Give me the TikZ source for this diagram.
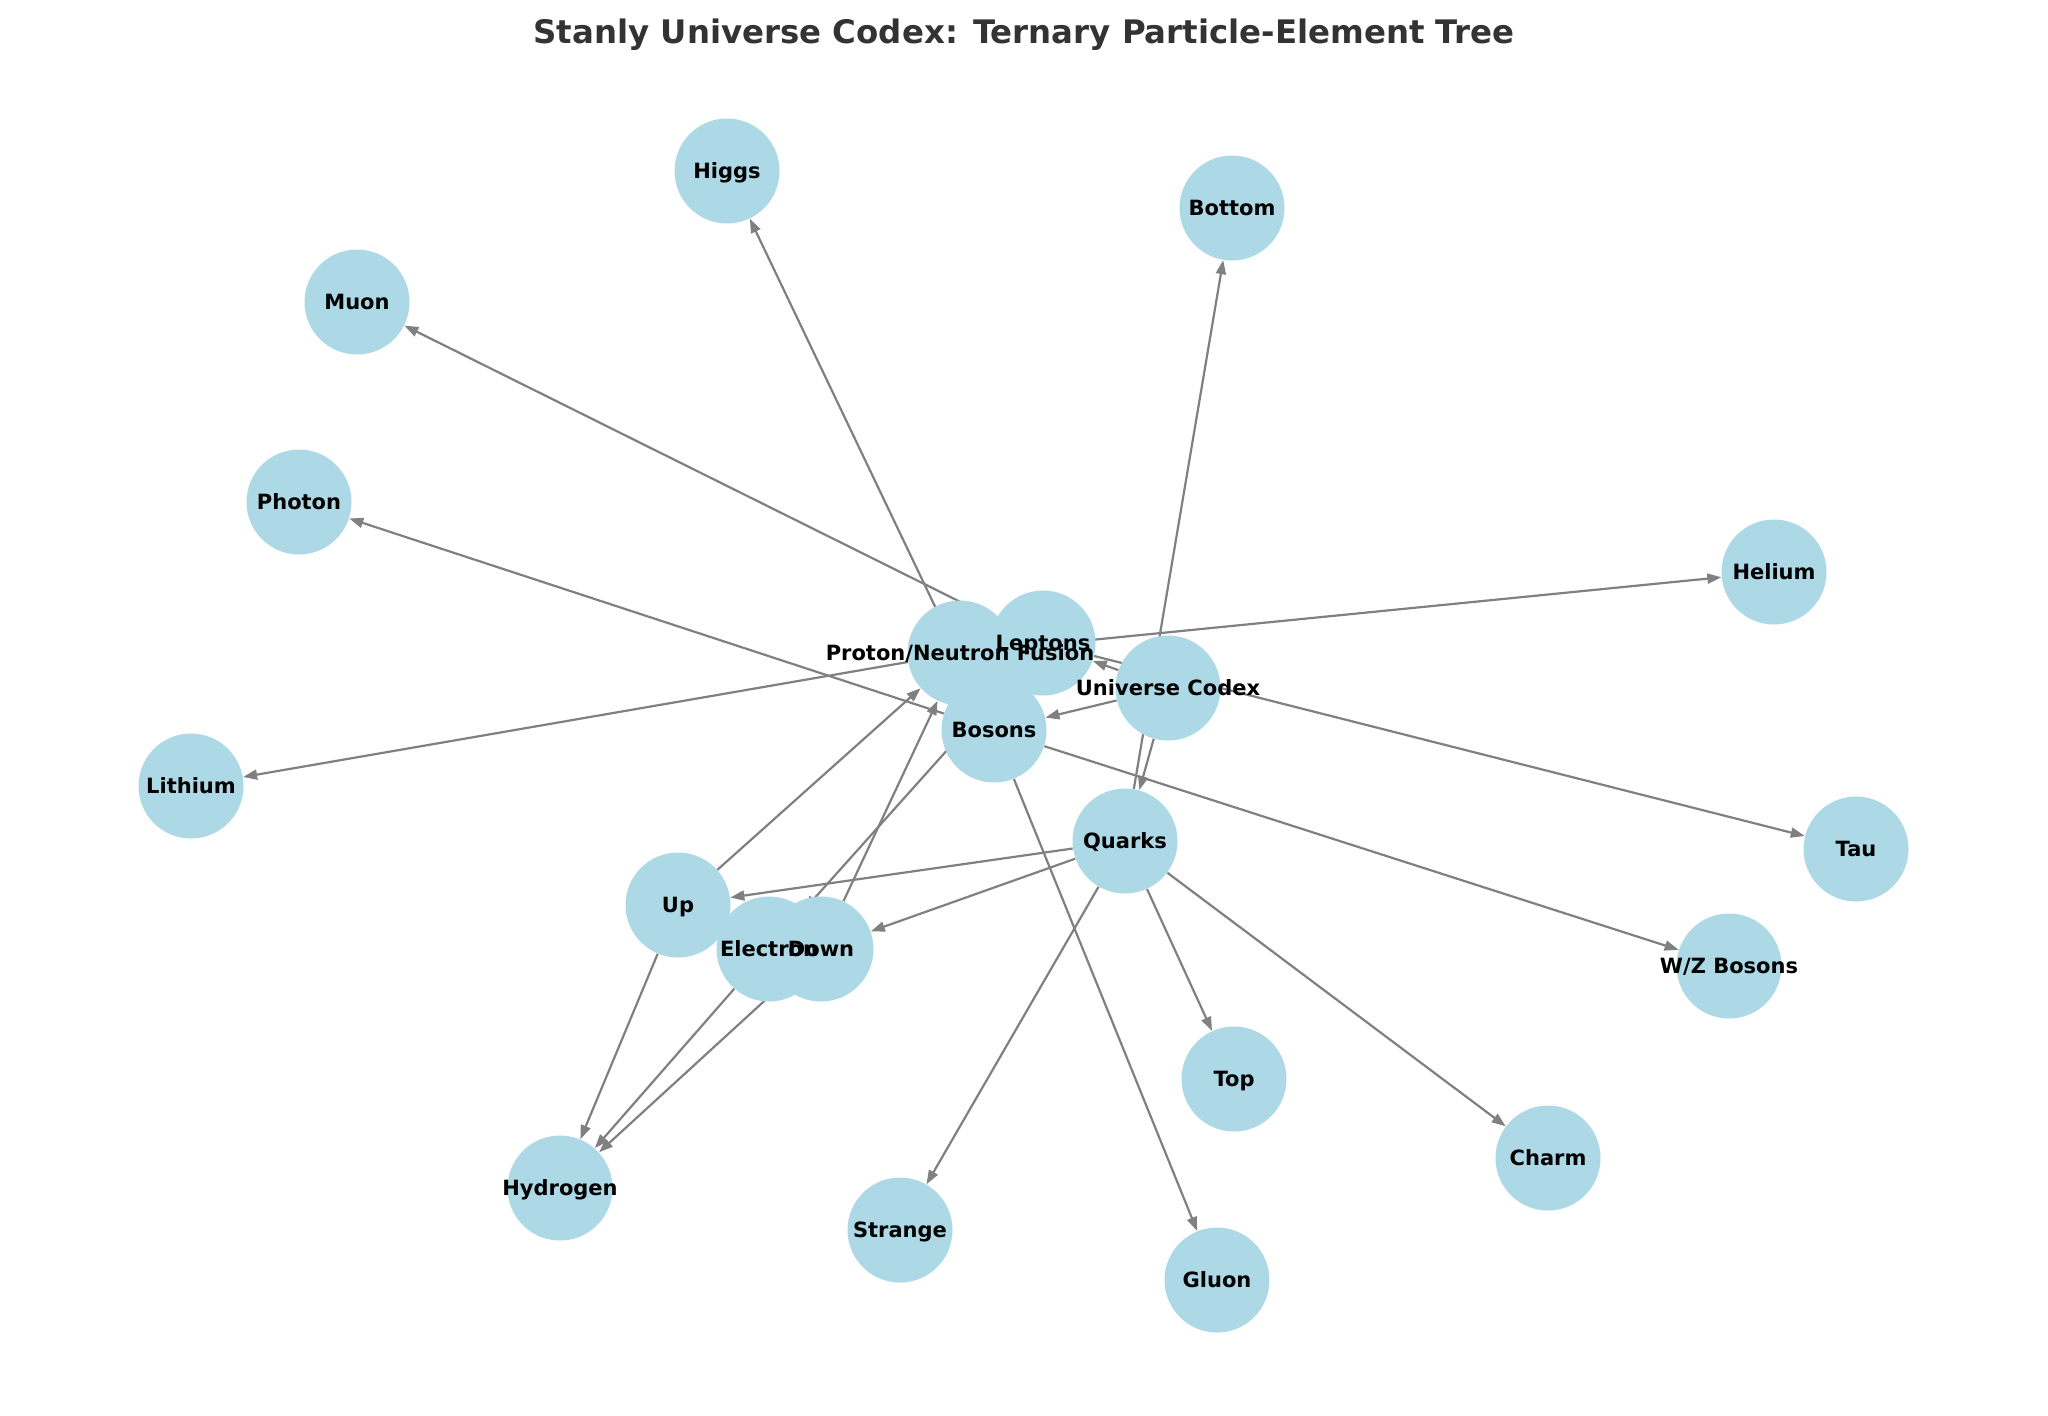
\documentclass[tikz,border=0pt]{standalone}
\usepackage{fontspec}
\setmainfont{DejaVu Sans}
\usetikzlibrary{arrows.meta}
\definecolor{nodeblue}{HTML}{ADD8E6}
\definecolor{edgegray}{HTML}{808080}
\definecolor{titlegray}{HTML}{333333}
\pgfdeclarelayer{background}
\pgfsetlayers{background,main}
\tikzset{
  dot/.style={circle, fill=nodeblue, draw=none, minimum size=52.5pt, inner sep=0pt},
  lbl/.style={font=\bfseries\fontsize{10.5}{12}\selectfont, text=black, inner sep=0pt, text height=0.73em, text depth=0pt},
  edge/.style={draw=edgegray, line width=1.1pt, -{Triangle[length=7pt,width=5pt]}}
}
\begin{document}
\begin{tikzpicture}[x=0.5pt,y=-0.5pt]
\useasboundingbox (0,0) rectangle (2048,1415);
\node[font=\bfseries\fontsize{16.2}{19}\selectfont, text=titlegray, anchor=base, inner sep=0pt] (title) at (1024,43) {Stanly Universe Codex: Ternary Particle-Element Tree};
% circles
\node[dot] (higgs) at (727,171) {};
\node[dot] (bottom) at (1232,208) {};
\node[dot] (muon) at (357,302) {};
\node[dot] (photon) at (299,502) {};
\node[dot] (helium) at (1774,572) {};
\node[dot] (leptons) at (1043,643) {};
\node[dot] (pnf) at (960,653) {};
\node[dot] (uc) at (1168,688) {};
\node[dot] (bosons) at (994,730) {};
\node[dot] (lithium) at (191,786) {};
\node[dot] (tau) at (1856,849) {};
\node[dot] (quarks) at (1125,841) {};
\node[dot] (up) at (678,905) {};
\node[dot] (electron) at (769,949) {};
\node[dot] (down) at (821,949) {};
\node[dot] (wz) at (1729,966) {};
\node[dot] (top) at (1234,1079) {};
\node[dot] (charm) at (1548,1158) {};
\node[dot] (hydrogen) at (560,1188) {};
\node[dot] (strange) at (900,1230) {};
\node[dot] (gluon) at (1217,1280) {};
% edges
\begin{pgfonlayer}{background}
\draw[edge] (uc) -- (leptons);
\draw[edge] (uc) -- (bosons);
\draw[edge] (uc) -- (quarks);
\draw[edge] (leptons) -- (electron);
\draw[edge] (leptons) -- (muon);
\draw[edge] (leptons) -- (tau);
\draw[edge] (bosons) -- (photon);
\draw[edge] (bosons) -- (gluon);
\draw[edge] (bosons) -- (wz);
\draw[edge] (bosons) -- (higgs);
\draw[edge] (quarks) -- (up);
\draw[edge] (quarks) -- (down);
\draw[edge] (quarks) -- (strange);
\draw[edge] (quarks) -- (charm);
\draw[edge] (quarks) -- (top);
\draw[edge] (quarks) -- (bottom);
\draw[edge] (up) -- (pnf);
\draw[edge] (down) -- (pnf);
\draw[edge] (pnf) -- (helium);
\draw[edge] (pnf) -- (lithium);
\draw[edge] (up) -- (hydrogen);
\draw[edge] (electron) -- (hydrogen);
\draw[edge] (down) -- (hydrogen);
\end{pgfonlayer}
% labels
\node[lbl] (l-higgs) at (higgs) {Higgs};
\node[lbl] (l-bottom) at (bottom) {Bottom};
\node[lbl] (l-muon) at (muon) {Muon};
\node[lbl] (l-photon) at (photon) {Photon};
\node[lbl] (l-helium) at (helium) {Helium};
\node[lbl] (l-leptons) at (leptons) {Leptons};
\node[lbl] (l-pnf) at (pnf) {Proton/Neutron Fusion};
\node[lbl] (l-uc) at (uc) {Universe Codex};
\node[lbl] (l-bosons) at (bosons) {Bosons};
\node[lbl] (l-lithium) at (lithium) {Lithium};
\node[lbl] (l-tau) at (tau) {Tau};
\node[lbl] (l-quarks) at (quarks) {Quarks};
\node[lbl] (l-up) at (up) {Up};
\node[lbl] (l-electron) at (electron) {Electron};
\node[lbl] (l-down) at (down) {Down};
\node[lbl] (l-wz) at (wz) {W/Z Bosons};
\node[lbl] (l-top) at (top) {Top};
\node[lbl] (l-charm) at (charm) {Charm};
\node[lbl] (l-hydrogen) at (hydrogen) {Hydrogen};
\node[lbl] (l-strange) at (strange) {Strange};
\node[lbl] (l-gluon) at (gluon) {Gluon};
\end{tikzpicture}
\end{document}
